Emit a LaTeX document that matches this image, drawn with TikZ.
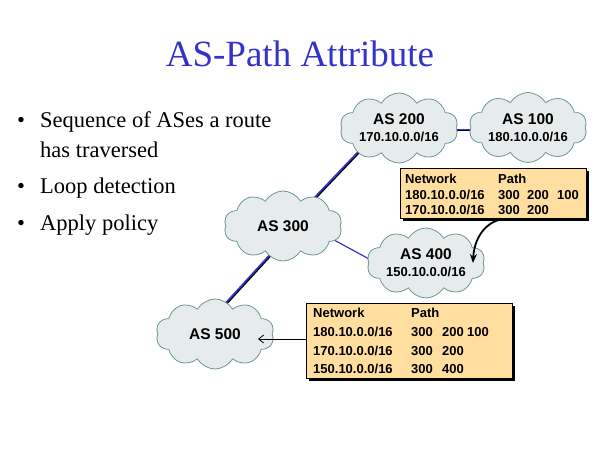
\documentclass[tikz,border=0pt]{standalone}
\usepackage{fontspec}
\setmainfont{Liberation Serif}
\setsansfont{Liberation Sans}
\usetikzlibrary{shapes.symbols,shadows,arrows.meta}
\pgfdeclarelayer{background}
\pgfsetlayers{background,main}
\definecolor{titleblue}{RGB}{51,51,204}
\definecolor{linkblue}{RGB}{51,51,204}
\definecolor{cloudfill}{RGB}{230,235,235}
\definecolor{cloudline}{RGB}{110,150,150}
\definecolor{tablefill}{RGB}{255,222,160}
\tikzset{
  asCloud/.style={cloud, cloud puffs=10, cloud puff arc=120, cloud ignores aspect,
    minimum width=118pt, minimum height=70pt, inner sep=0pt,
    fill=cloudfill, draw=cloudline, line width=0.8pt,
    align=center, font=\sffamily\bfseries\fontsize{13}{17}\selectfont},
  asTable/.style={rectangle, fill=tablefill, draw=black, line width=0.8pt, inner sep=0pt,
    drop shadow={shadow xshift=2.5pt, shadow yshift=-2.5pt, fill=black, opacity=1}},
  cell/.style={anchor=base west, inner sep=0pt, font=\sffamily\bfseries\fontsize{13}{15}\selectfont},
  bullet/.style={anchor=base west, inner sep=0pt, font=\fontsize{22.5}{27}\selectfont},
  link/.style={draw=linkblue, line width=1.6pt,
    preaction={draw=black, line width=1.6pt, transform canvas={shift={(0.9pt,-0.9pt)}}}},
  thinlink/.style={draw=linkblue, line width=1.2pt},
}
\newcommand{\asname}[1]{{\fontsize{15.5}{17}\selectfont #1}}
\newcommand{\asnet}[1]{{\fontsize{13}{17}\selectfont #1}}
\begin{document}
\begin{tikzpicture}[x=1pt,y=-1pt]
\useasboundingbox (0,0) rectangle (600,450);

% title
\node[anchor=base, inner sep=0pt, text=titleblue, font=\fontsize{37}{40}\selectfont] (title) at (300,66) {AS-Path Attribute};

% bullets
\node[bullet] (b1d) at (17,127) {•};
\node[bullet] (b1) at (40,127) {Sequence of ASes a route};
\node[bullet] (b1b) at (40,157) {has traversed};
\node[bullet] (b2d) at (17,193) {•};
\node[bullet] (b2) at (40,193) {Loop detection};
\node[bullet] (b3d) at (17,230) {•};
\node[bullet] (b3) at (40,230) {Apply policy};

% clouds
\node[asCloud] (as200) at (399,128) {\asname{AS 200}\\\asnet{170.10.0.0/16}};
\node[asCloud] (as100) at (528,127.5) {\asname{AS 100}\\\asnet{180.10.0.0/16}};
\node[asCloud] (as300) at (283,226) {\asname{AS 300}};
\node[asCloud] (as400) at (426,263) {\asname{AS 400}\\\asnet{150.10.0.0/16}};
\node[asCloud] (as500) at (215,334) {\asname{AS 500}};

% links (behind clouds)
\begin{pgfonlayer}{background}
\fill[white] (0,0) rectangle (600,450);
\draw[link] ([shift={(11,-7)}]as300.center) -- ([shift={(-21,3)}]as200.center);
\draw[link] ([shift={(4,10)}]as300.center) -- ([shift={(-4,-15)}]as500.center);
\draw[thinlink] ([shift={(40,8)}]as300.center) -- ([shift={(-44,3)}]as400.center);
\draw[link] ([shift={(30,1.5)}]as200.center) -- ([shift={(-30,2)}]as100.center);
\end{pgfonlayer}

% table 1
\node[asTable, minimum width=186pt, minimum height=50pt] (t1) at (493,193) {};
\node[cell] (t1h1) at (405,183) {Network};
\node[cell] (t1h2) at (498,183) {Path};
\node[cell] (t1r1a) at (405,199) {180.10.0.0/16};
\node[cell] (t1r1b) at (498,199) {300};
\node[cell] (t1r1c) at (527,199) {200};
\node[cell] (t1r1d) at (557,199) {100};
\node[cell] (t1r2a) at (405,214) {170.10.0.0/16};
\node[cell] (t1r2b) at (498,214) {300};
\node[cell] (t1r2c) at (527,214) {200};

% table 2
\node[asTable, minimum width=206pt, minimum height=75pt] (t2) at (409,340.5) {};
\node[cell] (t2h1) at (313,317) {Network};
\node[cell] (t2h2) at (411,317) {Path};
\node[cell] (t2r1a) at (313,336) {180.10.0.0/16};
\node[cell] (t2r1b) at (411,336) {300};
\node[cell] (t2r1c) at (442,336) {200};
\node[cell] (t2r1d) at (467,336) {100};
\node[cell] (t2r2a) at (313,355) {170.10.0.0/16};
\node[cell] (t2r2b) at (411,355) {300};
\node[cell] (t2r2c) at (442,355) {200};
\node[cell] (t2r3a) at (313,373) {150.10.0.0/16};
\node[cell] (t2r3b) at (411,373) {300};
\node[cell] (t2r3c) at (442,373) {400};

% arrows
\coordinate (t1out) at (503,219);
\coordinate (as400in) at (473,263);
\draw[line width=1.8pt, -{Stealth[length=9pt,width=7pt]}] (t1out) .. controls (484,222) and (474,240) .. (as400in);
\coordinate (as500in) at (258,339);
\draw[line width=0.8pt, -{Straight Barb[length=5pt,width=8pt]}] (t2.west |- as500in) -- (as500in);
\end{tikzpicture}
\end{document}
